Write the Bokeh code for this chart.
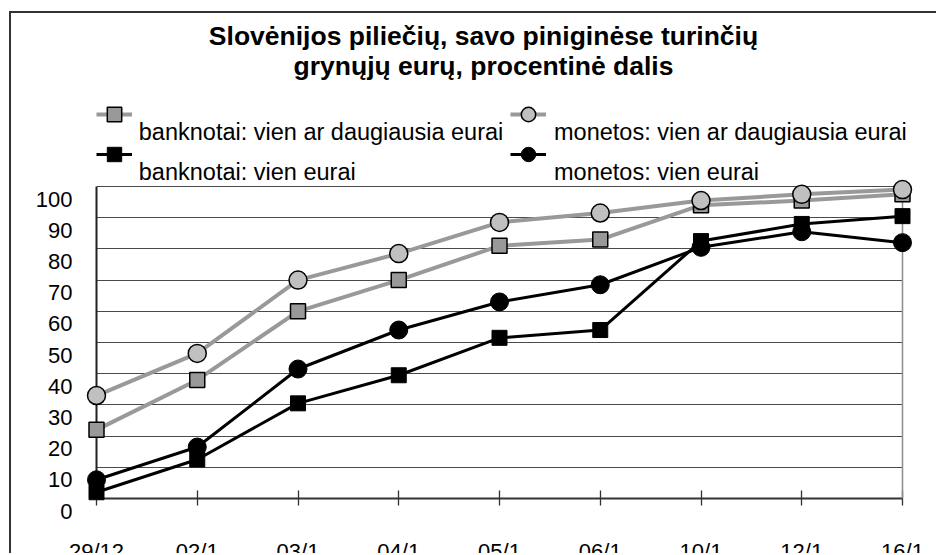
from bokeh.plotting import figure
from bokeh.models import (ColumnDataSource, Legend, LegendItem, FixedTicker, Range1d,
                          LinearAxis)
from bokeh.core.properties import value
from bokeh.embed import file_html
from bokeh.resources import INLINE

# ---- data ----
dates = ["29/12", "02/1", "03/1", "04/1", "05/1", "06/1", "10/1", "12/1", "16/1"]
banknotai_dauguma = [22, 38, 60, 70, 81, 83, 94, 95.5, 97.5]
monetos_dauguma = [33, 46.5, 70, 78.5, 88.5, 91.5, 95.5, 97.5, 99]
banknotai_vien = [2, 12.5, 30.5, 39.5, 51.5, 54, 82.5, 88, 90.5]
monetos_vien = [6, 16.5, 41.5, 54, 63, 68.5, 80.5, 85.5, 82]
y_ticks = [0, 10, 20, 30, 40, 50, 60, 70, 80, 90, 100]

title_lines = ["Slovėnijos piliečių, savo piniginėse turinčių",
               "grynųjų eurų, procentinė dalis"]
series_names = ["banknotai: vien ar daugiausia eurai",
                "monetos: vien ar daugiausia eurai",
                "banknotai: vien eurai",
                "monetos: vien eurai"]

xs = list(range(len(dates)))
src = ColumnDataSource(dict(x=xs, bd=banknotai_dauguma, md=monetos_dauguma,
                            bv=banknotai_vien, mv=monetos_vien))
ysrc = ColumnDataSource(dict(x=[xs[0]] * len(y_ticks), y=y_ticks,
                             t=[str(t) for t in y_ticks]))
xsrc = ColumnDataSource(dict(x=xs, y=[y_ticks[0]] * len(xs), t=dates))

FONT = value("Liberation Sans")

# layout (pixels): the header (title + legend) lives inside the frame, above the data area
W, H = 927, 542
HEADER_PX, PLOT_PX, BOTTOM_PX = 173, 312, 57
y_top = y_ticks[-1] + HEADER_PX * (y_ticks[-1] - y_ticks[0]) / PLOT_PX

p = figure(width=W, height=H, output_backend="svg", toolbar_location=None,
           x_range=Range1d(xs[0], xs[-1]), y_range=Range1d(y_ticks[0], y_top),
           min_border_left=85, min_border_right=36, min_border_top=0,
           min_border_bottom=BOTTOM_PX, background_fill_color="white",
           border_fill_color="white")
p.title.visible = False
# outer chart frame (its right and bottom edges fall outside the visible page)
p.margin = (11, 0, 0, 9)
p.styles = {"border-top": "2px solid #333333", "border-left": "2px solid #333333"}

# grid / outline
p.xgrid.grid_line_color = None
p.ygrid.ticker = FixedTicker(ticks=y_ticks)
p.ygrid.grid_line_color = "#4a4a4a"
p.ygrid.grid_line_width = 1
p.outline_line_color = None

# y axis: line only; its labels are drawn below their grid lines as in the original
p.yaxis.ticker = FixedTicker(ticks=[])
p.yaxis.bounds = (y_ticks[0], y_ticks[-1])
p.yaxis.axis_line_color = "#222222"
p.yaxis.axis_line_width = 2
p.yaxis.major_tick_out = 0
p.yaxis.major_tick_in = 0
p.yaxis.minor_tick_out = 0
p.yaxis.minor_tick_in = 0
p.yaxis.major_label_standoff = 0

# right edge of the plot area
p.add_layout(LinearAxis(ticker=FixedTicker(ticks=[]), bounds=(y_ticks[0], y_ticks[-1]),
                        axis_line_color="#8c8c8c", axis_line_width=1.5,
                        major_tick_out=0, major_tick_in=0, minor_tick_out=0,
                        minor_tick_in=0, major_label_standoff=0), "right")

# x axis: line + crossing tick marks (labels drawn separately, far below the axis)
p.xaxis.ticker = FixedTicker(ticks=[], minor_ticks=xs)
p.xaxis.axis_line_color = "#333333"
p.xaxis.axis_line_width = 2
p.xaxis.major_tick_in = 0
p.xaxis.major_tick_out = 0
p.xaxis.minor_tick_in = 8
p.xaxis.minor_tick_out = 7
p.xaxis.minor_tick_line_color = "#333333"
p.xaxis.minor_tick_line_width = 1.3
p.xaxis.major_label_standoff = 0

# tick labels
p.text("x", "y", text="t", source=ysrc, x_offset=-24, y_offset=12.5,
       text_font=FONT, text_font_size="22px", text_color="black",
       text_align="right", text_baseline="alphabetic", level="overlay")
p.text("x", "y", text="t", source=xsrc, y_offset=52.5,
       text_font=FONT, text_font_size="22px", text_color="black",
       text_align="center", text_baseline="alphabetic", level="overlay")

# series
GRAY_LINE = "#999999"
l1 = p.line("x", "bd", source=src, line_color=GRAY_LINE, line_width=4, level="overlay")
s1 = p.scatter("x", "bd", source=src, marker="square", size=15, fill_color="#999999",
               line_color="black", line_width=1.5, level="overlay")
l2 = p.line("x", "md", source=src, line_color=GRAY_LINE, line_width=4, level="overlay")
s2 = p.scatter("x", "md", source=src, marker="circle", size=18, fill_color="#c0c0c0",
               line_color="black", line_width=1.5, level="overlay")
l3 = p.line("x", "bv", source=src, line_color="black", line_width=3, level="overlay")
s3 = p.scatter("x", "bv", source=src, marker="square", size=15, fill_color="black",
               line_color="black", line_width=1, level="overlay")
l4 = p.line("x", "mv", source=src, line_color="black", line_width=3, level="overlay")
s4 = p.scatter("x", "mv", source=src, marker="circle", size=18, fill_color="black",
               line_color="black", line_width=1, level="overlay")

# legend keys (two columns); their texts sit below-right of each key
def add_key_column(items, x):
    p.add_layout(Legend(items=items, location=(x, 325.5), glyph_width=36,
                        glyph_height=38, spacing=2, padding=0, margin=0,
                        label_standoff=0, label_width=0, label_text_font_size="1px",
                        background_fill_alpha=0, border_line_alpha=0))

add_key_column([LegendItem(label=" ", renderers=[l1, s1]),
                LegendItem(label=" ", renderers=[l3, s3])], 0)
add_key_column([LegendItem(label=" ", renderers=[l2, s2]),
                LegendItem(label=" ", renderers=[l4, s4])], 414)

ax, ay = xs[0], y_ticks[-1]   # top-left corner of the data area
for name, dx, dy in zip(series_names, [42.3, 457.5, 42.3, 457.5],
                        [-54.7, -54.7, -14.7, -14.7]):
    p.text(x=[ax], y=[ay], text=[name], x_offset=dx, y_offset=dy,
           text_font=FONT, text_font_size="23.5px", text_color="black",
           text_align="left", text_baseline="alphabetic", level="overlay")

# title
for line, dy in zip(title_lines, [-151, -121]):
    p.text(x=[ax], y=[ay], text=[line], x_offset=387, y_offset=dy,
           text_font=FONT, text_font_size="26.5px", text_font_style="bold",
           text_color="black", text_align="center", text_baseline="alphabetic",
           level="overlay")

open("out.html", "w").write(file_html(p, INLINE))
